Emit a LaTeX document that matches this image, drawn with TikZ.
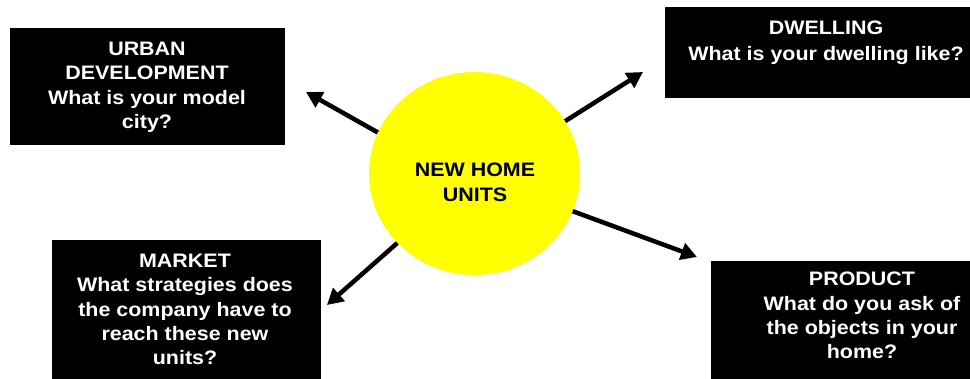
\documentclass[tikz,border=0pt]{standalone}
\usepackage{fontspec}
\setmainfont{Liberation Sans}[FakeStretch=1.1]
\usetikzlibrary{shapes.geometric,arrows.meta}
\definecolor{hubyellow}{RGB}{255,255,0}
\begin{document}
\begin{tikzpicture}[x=1pt,y=-1pt,
  box/.style={fill=black,draw=none,inner sep=0pt},
  lbl/.style={text=white,font=\fontsize{19.5}{24.3}\selectfont\bfseries,align=center,inner sep=0pt,anchor=north},
  hubstyle/.style={ellipse,fill=hubyellow,draw=none,minimum width=211pt,minimum height=203pt,inner sep=0pt},
  arr/.style={line width=4.5pt,-{Triangle[length=16pt,width=17pt]}}]
\useasboundingbox (0,0) rectangle (970,379);
% boxes
\node[box,minimum width=275pt,minimum height=117pt] (urban) at (147.5,86.5) {};
\node[box,minimum width=305pt,minimum height=91pt] (dwelling) at (817.5,52.5) {};
\node[box,minimum width=269pt,minimum height=139pt] (market) at (186.5,309.5) {};
\node[box,minimum width=259pt,minimum height=118pt] (product) at (840.5,320) {};
% labels
\node[lbl] (urbantext) at (147,42) {URBAN\\DEVELOPMENT\\What is your model\\city?};
\node[lbl,font=\fontsize{19.5}{26}\selectfont\bfseries] (dwellingtext) at (826,21) {DWELLING\\What is your dwelling like?};
\node[lbl] (markettext) at (185,254) {MARKET\\What strategies does\\the company have to\\reach these new\\units?};
\node[lbl] (producttext) at (862,272) {PRODUCT\\What do you ask of\\the objects in your\\home?};
% hub
\node[hubstyle] (hub) at (474.5,173.5) {};
\node[lbl,text=black] (hubtext) at (475,163) {NEW HOME\\UNITS};
% arrow tips
\coordinate (tipU) at (306,92);
\coordinate (tipD) at (643,72);
\coordinate (tipM) at (327,305);
\coordinate (tipP) at (697,257);
\draw[arr] (hub.157) -- (tipU);
\draw[arr] (hub.30.6) -- (tipD);
\draw[arr] (hub.222.3) -- (tipM);
\draw[arr] (hub.-21.5) -- (tipP);
\end{tikzpicture}
\end{document}
